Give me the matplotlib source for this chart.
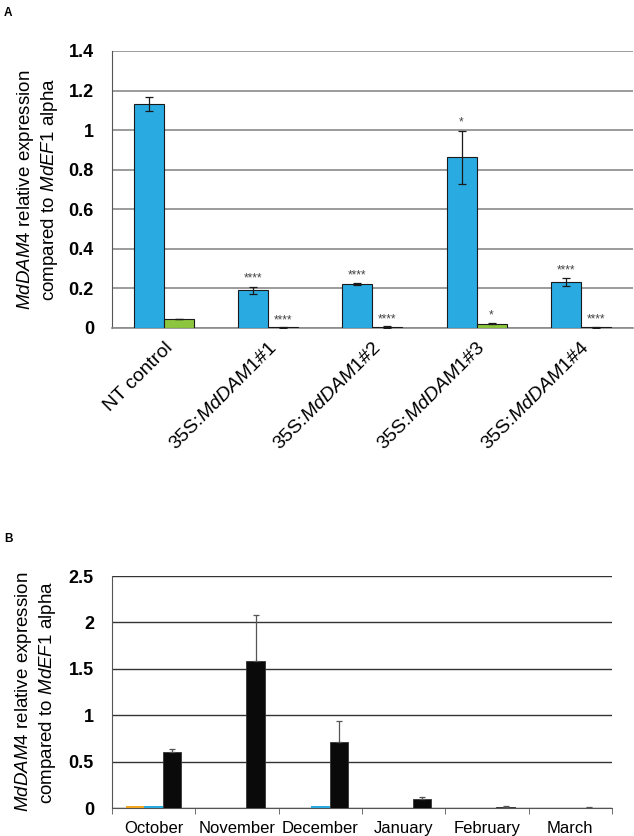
import matplotlib.pyplot as plt
import numpy as np

plt.rcParams['font.family'] = ['Liberation Sans', 'DejaVu Sans']
plt.rcParams['mathtext.fontset'] = 'custom'
plt.rcParams['mathtext.rm'] = 'Liberation Sans'
plt.rcParams['mathtext.it'] = 'Liberation Sans:italic'
plt.rcParams['mathtext.bf'] = 'Liberation Sans:bold'

# Panel A data
lines_a = ['NT control', r'35S:$\it{MdDAM1}$#1', r'35S:$\it{MdDAM1}$#2',
           r'35S:$\it{MdDAM1}$#3', r'35S:$\it{MdDAM1}$#4']
blue_a = [1.13, 0.19, 0.222, 0.863, 0.232]
blue_a_err = [0.035, 0.018, 0.005, 0.135, 0.02]
green_a = [0.045, 0.003, 0.004, 0.022, 0.004]
green_a_err = [0.0, 0.002, 0.005, 0.004, 0.002]
stars_blue = ['', '****', '****', '*', '****']
stars_green = ['', '****', '****', '*', '****']

# Panel B data
months = ['October', 'November', 'December', 'January', 'February', 'March']
orange_b = [0.02, 0.005, 0.0, 0.0, 0.0, 0.0]
blue_b = [0.02, 0.005, 0.028, 0.003, 0.0, 0.0]
black_b = [0.61, 1.58, 0.71, 0.10, 0.015, 0.005]
black_b_err = [0.025, 0.5, 0.23, 0.02, 0.006, 0.006]

BLUE = '#29abe2'
GREEN = '#8cc63f'
ORANGE = '#f2a51f'

ylabel = r'$\it{MdDAM4}$ relative expression' + '\n' + r'compared to $\it{MdEF1}$ alpha'

fig = plt.figure(figsize=(6.34, 8.36), dpi=100)

# ---------- Panel A ----------
ax = fig.add_axes([0.1767, 0.6077, 0.8213, 0.3313])
x = np.arange(len(lines_a))
w = 0.288
ax.bar(x - w / 2, blue_a, w, color=BLUE, edgecolor='#1a1a1a', linewidth=0.8, zorder=3)
ax.bar(x + w / 2, green_a, w, color=GREEN, edgecolor='#1a1a1a', linewidth=0.8, zorder=3)
ax.errorbar(x - w / 2, blue_a, yerr=blue_a_err, fmt='none', ecolor='#1a1a1a',
            elinewidth=0.9, capsize=3, capthick=0.9, zorder=4)
ax.errorbar(x + w / 2, green_a, yerr=green_a_err, fmt='none', ecolor='#1a1a1a',
            elinewidth=0.9, capsize=3, capthick=0.9, zorder=4)
for i in range(len(lines_a)):
    if stars_blue[i]:
        ax.text(x[i] - w / 2, blue_a[i] + blue_a_err[i] + 0.01, stars_blue[i],
                ha='center', va='bottom', fontsize=8.5, color='#444444')
    if stars_green[i]:
        ax.text(x[i] + w / 2, green_a[i] + green_a_err[i] + 0.005, stars_green[i],
                ha='center', va='bottom', fontsize=8.5, color='#444444')
ax.set_xlim(-0.5, len(lines_a) - 0.5)
ax.set_ylim(0, 1.4)
ax.set_yticks(np.arange(0, 1.41, 0.2))
ax.set_yticklabels(['0', '0.2', '0.4', '0.6', '0.8', '1', '1.2', '1.4'],
                   fontsize=13, fontweight='bold')
ax.yaxis.grid(True, color='#8a8a8a', linewidth=1.2, zorder=0)
ax.set_axisbelow(True)
ax.set_xticks(x)
ax.set_xticklabels(lines_a, rotation=45, ha='right', rotation_mode='anchor', fontsize=14)
ax.tick_params(axis='x', length=0, pad=8)
ax.tick_params(axis='y', length=0, pad=13)
for s in ['top', 'right']:
    ax.spines[s].set_visible(False)
ax.spines['left'].set_color('#555555')
ax.spines['bottom'].set_color('#8a8a8a')
ax.spines['bottom'].set_linewidth(1.2)
ax.set_ylabel(ylabel, fontsize=13.5, labelpad=6)
fig.text(0.006, 0.992, 'A', fontsize=8.5, fontweight='bold', va='top')

# ---------- Panel B ----------
bx = fig.add_axes([0.1767, 0.0331, 0.7886, 0.2779])
xb = np.arange(len(months))
wb = 0.222
bx.bar(xb - wb, orange_b, wb, color=ORANGE, zorder=3)
bx.bar(xb, blue_b, wb, color=BLUE, zorder=3)
bx.bar(xb + wb, black_b, wb, color='#0a0a0a', edgecolor='#333333', linewidth=0.6, zorder=3)
bx.errorbar(xb + wb, black_b, yerr=[np.zeros(len(black_b)), black_b_err], fmt='none',
            ecolor='#555555', elinewidth=0.9, capsize=2.5, capthick=0.9, zorder=4)
bx.set_xlim(-0.5, len(months) - 0.5)
bx.set_ylim(0, 2.5)
bx.set_yticks(np.arange(0, 2.51, 0.5))
bx.set_yticklabels(['0', '0.5', '1', '1.5', '2', '2.5'], fontsize=13, fontweight='bold')
bx.yaxis.grid(True, color='#333333', linewidth=1.0, zorder=0)
bx.set_axisbelow(True)
bx.set_xticks(xb)
bx.set_xticklabels(months, fontsize=12)
bx.set_xticks(np.arange(-0.5, len(months)), minor=True)
bx.tick_params(axis='x', which='major', length=0, pad=9)
bx.tick_params(axis='x', which='minor', length=4, color='#555555')
bx.tick_params(axis='y', length=0, pad=13)
for s in ['top', 'right']:
    bx.spines[s].set_visible(False)
bx.spines['left'].set_color('#555555')
bx.spines['bottom'].set_color('#555555')
bx.set_ylabel(ylabel, fontsize=13.5, labelpad=8)
fig.text(0.006, 0.362, 'B', fontsize=8.5, fontweight='bold', va='top')

fig.savefig('out.png', dpi=100)
